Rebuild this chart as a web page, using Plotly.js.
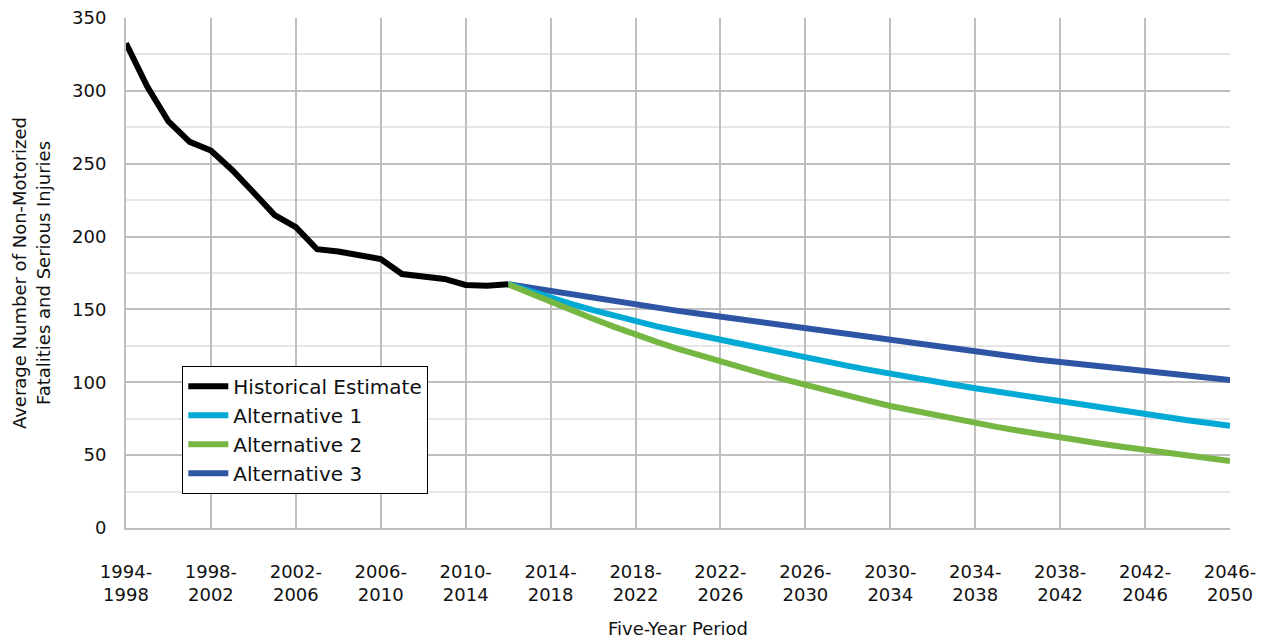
<!DOCTYPE html>
<html>
<head>
<meta charset="utf-8">
<script src="https://cdn.plot.ly/plotly-3.0.1.min.js"></script>
<style>html,body{margin:0;padding:0;background:#fff;}#chart{width:1265px;height:641px;}</style>
</head>
<body>
<div id="chart"></div>
<script>
// Five-year periods, one per start year 1994..2046
const startYears = [];
for (let y = 1994; y <= 2046; y++) startYears.push(y);
const periods = startYears.map(y => y + "-" + (y + 4));

const tickPeriods = ["1994-1998","1998-2002","2002-2006","2006-2010","2010-2014","2014-2018","2018-2022","2022-2026","2026-2030","2030-2034","2034-2038","2038-2042","2042-2046","2046-2050"];
const tickLabels = tickPeriods.map(p => p.replace("-", "-<br>"));

// Historical estimate: 1994-1998 .. 2012-2016
const historicalPeriods = periods.slice(0, 19);
const historical = [332.7, 303, 279, 265, 259, 245.7, 230.4, 214.8, 206.4, 191.3, 189.7, 187.4, 184.6, 174.3, 173, 170.9, 166.8, 166.3, 167.3];

// Alternatives: 2012-2016 .. 2046-2050
const altPeriods = periods.slice(18);
const alt1 = [167.3,162.5,157.8,153.6,149.5,145.5,141.6,138.4,135.2,132.1,129.0,126.0,123.0,120.0,117.0,114.1,111.3,108.5,105.7,103.2,100.8,98.3,95.9,93.6,91.3,89.0,86.7,84.4,82.1,79.9,77.6,75.7,73.9,72.0,70.2];
const alt2 = [167.3,161.2,155.3,149.4,143.6,138.0,132.5,127.7,123.0,118.5,114.1,110.0,106.0,102.0,98.1,94.4,90.8,87.2,83.7,80.7,77.7,74.8,71.9,69.4,66.9,64.4,62.0,59.8,57.7,55.6,53.5,51.6,49.7,47.8,46.0];
const alt3 = [167.3,164.9,162.5,160.1,157.8,155.4,153.0,151.0,149.0,147.0,145.0,142.8,140.7,138.5,136.4,134.5,132.5,130.6,128.6,126.7,124.8,122.9,121.0,119.2,117.4,115.5,113.7,112.2,110.7,109.3,107.8,106.3,104.7,103.2,101.6];

const FONT = "'DejaVu Sans', Lato, sans-serif";

const traces = [
  {x: altPeriods, y: alt3, name: "Alternative 3", mode: "lines", line: {color: "#2e55a4", width: 6}, legendrank: 4},
  {x: altPeriods, y: alt1, name: "Alternative 1", mode: "lines", line: {color: "#00aad4", width: 6}, legendrank: 2},
  {x: altPeriods, y: alt2, name: "Alternative 2", mode: "lines", line: {color: "#76b744", width: 6}, legendrank: 3},
  {x: historicalPeriods, y: historical, name: "Historical Estimate", mode: "lines", line: {color: "#000000", width: 6}, legendrank: 1}
];

const layout = {
  width: 1265, height: 641,
  margin: {l: 126, r: 35, t: 18, b: 113},
  paper_bgcolor: "#ffffff", plot_bgcolor: "#ffffff",
  font: {family: FONT, color: "#111111", size: 18},
  showlegend: true,
  legend: {
    x: 0.051, y: 0.318, xanchor: "left", yanchor: "top",
    bordercolor: "#000000", borderwidth: 1, bgcolor: "#ffffff",
    font: {family: FONT, size: 20, color: "#111111"},
    tracegroupgap: 0, itemwidth: 40,
    traceorder: "normal"
  },
  xaxis: {
    type: "category",
    categoryorder: "array", categoryarray: periods,
    range: [0, 52],
    tickmode: "array", tickvals: tickPeriods, ticktext: tickLabels,
    showgrid: true, gridcolor: "#bfbfbf", gridwidth: 2,
    showline: true, linecolor: "#bfbfbf", linewidth: 2,
    ticks: "", ticklabelstandoff: 26,
    tickfont: {family: FONT, size: 18, color: "#111111"},
    zeroline: false, fixedrange: true,
    title: {text: "Five-Year Period", font: {family: FONT, size: 18, color: "#111111"}, standoff: 18}
  },
  yaxis: {
    range: [0, 350], dtick: 50, tick0: 0,
    showgrid: true, gridcolor: "#bfbfbf", gridwidth: 2,
    minor: {dtick: 25, showgrid: true, gridcolor: "#e6e6e6", gridwidth: 2, ticks: ""},
    showline: true, linecolor: "#bfbfbf", linewidth: 2,
    ticks: "", ticklabelstandoff: 14,
    tickfont: {family: FONT, size: 18, color: "#111111"},
    zeroline: false, fixedrange: true,
    title: {text: "Average Number of Non-Motorized<br>Fatalities and Serious Injuries", font: {family: FONT, size: 18, color: "#111111"}, standoff: 17}
  }
};

Plotly.newPlot("chart", traces, layout, {displayModeBar: false, staticPlot: true});
</script>
</body>
</html>
